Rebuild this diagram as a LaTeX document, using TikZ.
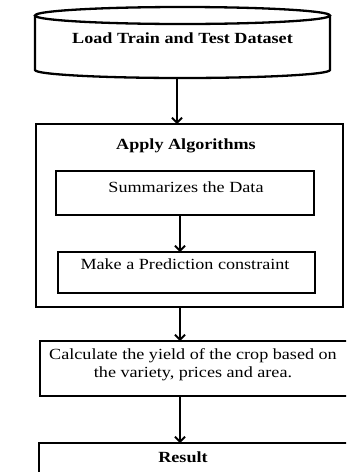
\documentclass[tikz,border=0pt]{standalone}
\usepackage{fontspec}
\setmainfont{Liberation Serif}[FakeStretch=1.17]
\usetikzlibrary{arrows.meta}
\begin{document}
\begin{tikzpicture}[x=1pt,y=-1pt,
  boxnode/.style={draw, line width=2.3pt, inner sep=0pt, outer sep=0pt},
  txt/.style={inner sep=0pt, font=\fontsize{15.5}{18}\selectfont},
  btxt/.style={txt, font=\fontsize{15.5}{18}\selectfont\bfseries},
  arr/.style={line width=1.9pt, -{Straight Barb[length=5pt,width=10pt]}}]
\useasboundingbox (0,0) rectangle (346,472);
\fill[white] (0,0) rectangle (346,472);
\clip (0,0) rectangle (346,472);

% data source drum
\draw[line width=2.3pt] (182.5,15.5) ellipse[x radius=147.5, y radius=8.5];
\draw[line width=2.3pt] (35,15.5) -- (35,70)
  arc[start angle=180, end angle=0, x radius=147.5, y radius=8] -- (330,15.5);
\node[btxt, anchor=base] (load) at (182.5,43) {Load Train and Test Dataset};
\coordinate (loadbot) at (177,78);

% algorithm block with its two steps
\node[boxnode, minimum width=307, minimum height=183] (algo) at (189.5,215.5) {};
\node[btxt, anchor=base] (algotitle) at (186,149) {Apply Algorithms};
\node[boxnode, minimum width=258, minimum height=44] (sum) at (185,193) {};
\node[txt, anchor=base] (sumtxt) at (186,192) {Summarizes the Data};
\node[boxnode, minimum width=257, minimum height=41] (pred) at (186.5,272.5) {};
\node[txt, anchor=base] (predtxt) at (185,269) {Make a Prediction constraint};

% yield calculation and result
\node[boxnode, minimum width=310, minimum height=55] (calc) at (195,368.5) {};
\node[txt, align=center] (calctxt) at (193,364.5)
  {Calculate the yield of the crop based on\\the variety, prices and area.};
\node[boxnode, minimum width=312, minimum height=45] (result) at (195,465.5) {};
\node[btxt, anchor=base] (restxt) at (183,462) {Result};

% flow arrows
\coordinate (ax) at (180,0);
\draw[arr] (loadbot) -- (loadbot |- algo.north);
\draw[arr] (sum.south -| ax) -- (pred.north -| ax);
\draw[arr] (algo.south -| ax) -- (calc.north -| ax);
\draw[arr] (calc.south -| ax) -- (result.north -| ax);
\end{tikzpicture}
\end{document}
